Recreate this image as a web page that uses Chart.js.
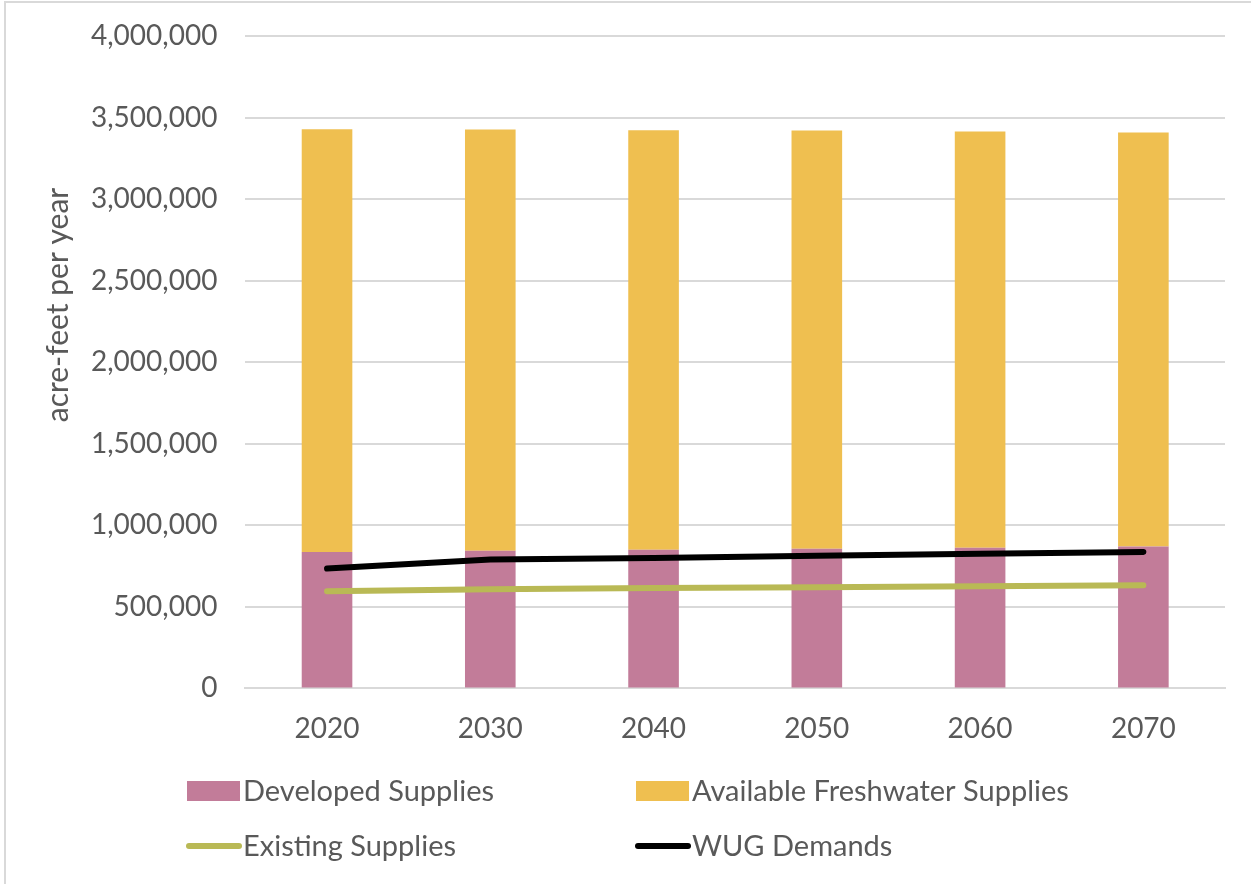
<!DOCTYPE html>
<html>
<head>
<meta charset="utf-8">
<script src="https://cdn.jsdelivr.net/npm/chart.js@4"></script>
<style>
  html, body { margin: 0; padding: 0; background: #fff; }
  #wrap { width: 1251px; height: 884px; position: relative; }
</style>
</head>
<body>
<div id="wrap"><canvas id="chart" width="1251" height="884"></canvas></div>
<script>
// data
const years = ['2020', '2030', '2040', '2050', '2060', '2070'];
const developedSupplies = [836000, 844000, 850000, 856000, 862000, 870000];
const availableFreshwater = [2592000, 2582000, 2572000, 2564000, 2553000, 2539000];
const existingSupplies = [596000, 608000, 615000, 620000, 626000, 633000];
const wugDemands = [735000, 791000, 799000, 813000, 825000, 837000];
const yTicks = [0, 500000, 1000000, 1500000, 2000000, 2500000, 3000000, 3500000, 4000000];
const yTitle = 'acre-feet per year';

const FONT = 'Lato, "Open Sans", sans-serif';
const TEXT = '#595959';

// thin frame along the top and left edge, plus the y axis title
const frame = {
    id: 'frame',
    beforeDraw(chart) {
        const ctx = chart.ctx;
        ctx.save();
        ctx.strokeStyle = '#d9d9d9';
        ctx.lineWidth = 2;
        ctx.strokeRect(5, 2, 1400, 1000);
        ctx.restore();
    },
    afterDraw(chart) {
        const ctx = chart.ctx;
        ctx.save();
        ctx.translate(58, 305);
        ctx.rotate(-Math.PI / 2);
        ctx.font = '30px ' + FONT;
        ctx.fillStyle = TEXT;
        ctx.textAlign = 'center';
        ctx.textBaseline = 'middle';
        ctx.fillText(yTitle, 0, 0);
        ctx.restore();
    }
};

// draws the 2x2 legend under the chart
const gridLegend = {
    id: 'gridLegend',
    afterDraw(chart) {
        const ctx = chart.ctx;
        const ds = chart.data.datasets;
        const cols = [187, 636];
        const rows = [791, 846];
        ctx.save();
        ctx.font = '29px ' + FONT;
        ctx.textBaseline = 'middle';
        ds.forEach((d, i) => {
            const x = cols[i % 2];
            const y = rows[Math.floor(i / 2)];
            if (d.type === 'bar') {
                ctx.fillStyle = d.backgroundColor;
                ctx.fillRect(x, y - 10, 53, 20);
            } else {
                ctx.strokeStyle = d.borderColor;
                ctx.lineWidth = 6;
                ctx.lineCap = 'round';
                ctx.beginPath();
                ctx.moveTo(x + 2, y);
                ctx.lineTo(x + 52, y);
                ctx.stroke();
            }
            ctx.fillStyle = TEXT;
            ctx.fillText(d.label, x + 56, y + 1);
        });
        ctx.restore();
    }
};

new Chart(document.getElementById('chart'), {
    data: {
        labels: years,
        datasets: [
            {
                type: 'bar',
                label: 'Developed Supplies',
                data: developedSupplies,
                backgroundColor: '#c27c99',
                stack: 'supplies',
                order: 2,
                barPercentage: 0.31,
                categoryPercentage: 1
            },
            {
                type: 'bar',
                label: 'Available Freshwater Supplies',
                data: availableFreshwater,
                backgroundColor: '#efbf50',
                stack: 'supplies',
                order: 2,
                barPercentage: 0.31,
                categoryPercentage: 1
            },
            {
                type: 'line',
                label: 'Existing Supplies',
                data: existingSupplies,
                borderColor: '#b9b955',
                borderWidth: 6,
                borderCapStyle: 'round',
                pointRadius: 0,
                stack: 'existing',
                order: 1
            },
            {
                type: 'line',
                label: 'WUG Demands',
                data: wugDemands,
                borderColor: '#000000',
                borderWidth: 6,
                borderCapStyle: 'round',
                pointRadius: 0,
                stack: 'demands',
                order: 0
            }
        ]
    },
    options: {
        responsive: false,
        animation: false,
        layout: {
            padding: { left: 63, right: 26, top: 5, bottom: 122 }
        },
        plugins: {
            legend: { display: false },
            tooltip: { enabled: false }
        },
        scales: {
            x: {
                stacked: true,
                grid: { display: false },
                border: { color: '#d9d9d9', width: 2 },
                ticks: {
                    color: TEXT,
                    font: { family: FONT, size: 28 },
                    padding: 16
                }
            },
            y: {
                stacked: true,
                min: 0,
                max: 4000000,
                afterBuildTicks(axis) {
                    axis.ticks = yTicks.map(v => ({ value: v }));
                },
                // tick padding would otherwise push the plot top down
                afterFit(axis) {
                    axis.paddingTop = 36;
                },
                grid: { color: '#d9d9d9', lineWidth: 2, drawTicks: false },
                border: { display: false },
                ticks: {
                    color: TEXT,
                    font: { family: FONT, size: 28 },
                    padding: 28,
                    callback: v => v.toLocaleString('en-US')
                }
            }
        }
    },
    plugins: [frame, gridLegend]
});
</script>
</body>
</html>
